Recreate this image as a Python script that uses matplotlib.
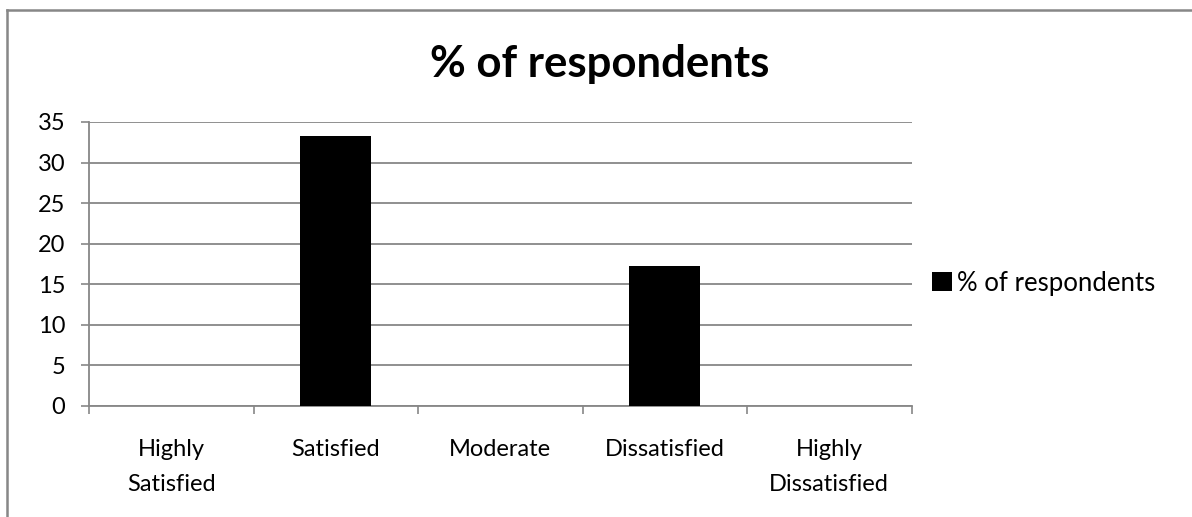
import matplotlib.pyplot as plt
from matplotlib.lines import Line2D

plt.rcParams['font.family'] = ['Lato', 'DejaVu Sans']

categories = ["Highly\nSatisfied", "Satisfied", "Moderate", "Dissatisfied", "Highly\nDissatisfied"]
values = [0, 33.3, 0, 17.2, 0]
yticks = [0, 5, 10, 15, 20, 25, 30, 35]

W, H = 1192, 517
grey = "#878787"
fs = 17

fig = plt.figure(figsize=(W / 100, H / 100), dpi=100)
ax = fig.add_axes([89 / W, (H - 406) / H, (911.5 - 89) / W, (406 - 122) / H])

x = list(range(len(categories)))
ax.bar(x, values, width=0.43, color="black", label="% of respondents", zorder=3)

ax.set_xlim(-0.5, len(categories) - 0.5)
ax.set_ylim(0, 35)
ax.set_yticks(yticks)
ax.set_yticklabels([str(v) for v in yticks])
ax.set_xticks([i - 0.5 for i in range(len(categories) + 1)], minor=False)
ax.set_xticklabels([])
ax.set_xticks(x, minor=True)
ax.set_xticklabels(categories, minor=True, fontsize=fs, va="top", linespacing=1.8)
ax.tick_params(axis="x", which="minor", length=0, pad=24)
ax.tick_params(axis="x", which="major", length=5.5, width=1.2, color=grey, direction="out")
ax.tick_params(axis="y", length=6, width=1.2, color=grey, labelsize=fs, pad=11)

ax.grid(axis="y", color=grey, linewidth=1.3, zorder=0)
for s in ["top", "right"]:
    ax.spines[s].set_visible(False)
for s in ["left", "bottom"]:
    ax.spines[s].set_color(grey)
    ax.spines[s].set_linewidth(1.3)

# title is centred on the whole chart, not on the plot area
fig.text(600 / W, (H - 77) / H, "% of respondents", fontsize=31.5, fontweight="bold",
         ha="center", va="baseline")

ax.legend(loc="center left", bbox_to_anchor=(922 / W, (H - 283) / H),
          bbox_transform=fig.transFigure, frameon=False, fontsize=18.5,
          handlelength=0.75, handleheight=0.75, handletextpad=0.2, borderaxespad=0)

# chart frame
fig.add_artist(Line2D([7.5 / W, 7.5 / W], [0, (H - 10) / H], color=grey, linewidth=1.8))
fig.add_artist(Line2D([7.5 / W, 1], [(H - 10) / H, (H - 10) / H], color=grey, linewidth=1.8))

fig.savefig("out.png", dpi=100)
